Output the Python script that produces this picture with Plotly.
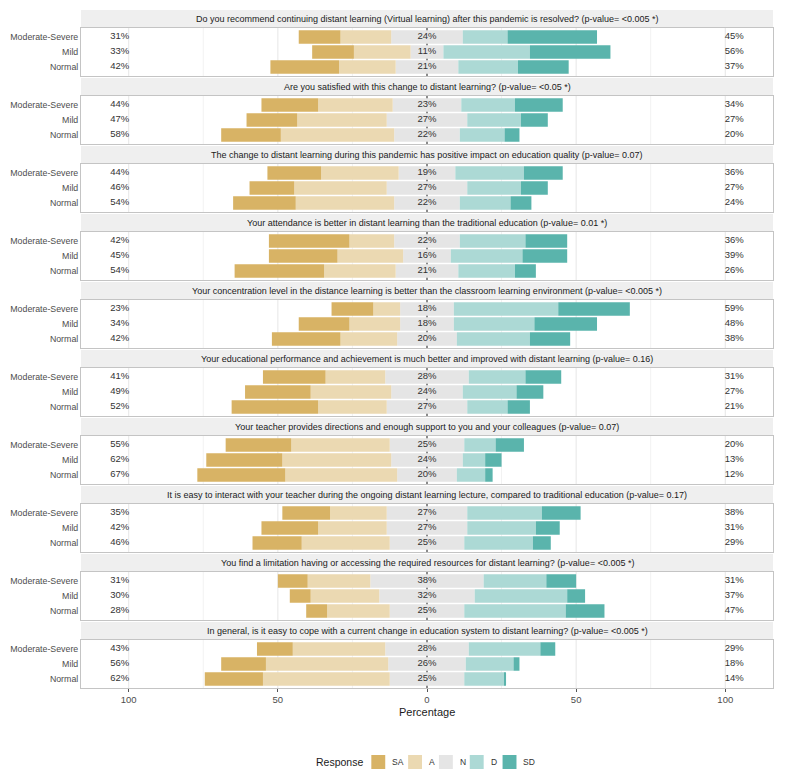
import plotly.graph_objects as go

questions = [
    "Do you recommend continuing distant learning (Virtual learning) after this pandemic is resolved? (p-value= <0.005 *)",
    "Are you satisfied with this change to distant learning? (p-value= <0.05 *)",
    "The change to distant learning during this pandemic has positive impact on education quality (p-value= 0.07)",
    "Your attendance is better in distant learning than the traditional education (p-value= 0.01 *)",
    "Your concentration level in the distance learning is better than the classroom learning environment (p-value= <0.005 *)",
    "Your educational performance and achievement is much better and improved with distant learning (p-value= 0.16)",
    "Your teacher provides directions and enough support to you and your colleagues (p-value= 0.07)",
    "It is easy to interact with your teacher during the ongoing distant learning lecture, compared to traditional education (p-value= 0.17)",
    "You find a limitation having or accessing the required resources for distant learning? (p-value= <0.005 *)",
    "In general, is it easy to cope with a current change in education system to distant learning? (p-value= <0.005 *)",
]
groups = ["Moderate-Severe", "Mild", "Normal"]
responses = ["SA", "A", "N", "D", "SD"]

# values per question, in group order Moderate-Severe, Mild, Normal
SA = [[14, 14, 23], [19, 17, 20], [18, 15, 21], [27, 23, 30], [14, 17, 23],
      [21, 22, 29], [22, 25.5, 29.5], [16, 19, 16.5], [10, 7, 7], [12, 15, 19.5]]
A = [[17, 19, 19], [25, 30, 38], [26, 31, 33], [15, 22, 24], [9, 17, 19],
     [20, 27, 23], [33, 36.5, 37.5], [19, 23, 29.5], [21, 23, 21], [31, 41, 42.5]]
N = [[24, 11, 21], [23, 27, 22], [19, 27, 22], [22, 16, 21], [18, 18, 20],
     [28, 24, 27], [25, 24, 20], [27, 27, 25], [38, 32, 25], [28, 26, 25]]
D = [[15, 29, 20], [18, 18, 15], [23, 18, 17], [22, 24, 19], [35, 27, 24.5],
     [19, 18, 13.5], [10.5, 7.5, 9.5], [25, 23, 23], [21, 31, 34], [24, 16, 13.5]]
SD = [[30, 27, 17], [16, 9, 5], [13, 9, 7], [14, 15, 7], [24, 21, 13.5],
      [12, 9, 7.5], [9.5, 5.5, 2.5], [13, 8, 6], [10, 6, 13], [5, 2, 0.5]]

x_ticks = [-100, -50, 0, 50, 100]
x_ticktext = ["100", "50", "0", "50", "100"]
x_minor = [-75, -25, 25, 75]

colors = {"SA": "#D8B365", "A": "#EBD9B2", "N": "#E5E5E5", "D": "#ACD9D5", "SD": "#5AB4AC"}
FONT = "Liberation Sans, Arial, sans-serif"

# the page adds an 8px body margin, so the figure is laid out 8px up/left
OFF = 8
W, Hfig = 800 - OFF, 775 - OFF
T, L = 10 - OFF, 77 - OFF
R = W - (773 - OFF)
STRIP, PANEL, GAP = 18, 48, 2
nq = len(questions)
PH = nq * (STRIP + PANEL) + (nq - 1) * GAP
B = Hfig - T - PH
PW = W - L - R


def py(pix):
    """page pixel (from top) -> paper y"""
    return 1 - (pix - OFF - T) / PH


def px(pix):
    """page pixel (from left) -> paper x"""
    return (pix - OFF - L) / PW


fig = go.Figure()
shapes = []
annotations = []
layout_axes = {}

for i in range(nq):
    xa = "x" if i == 0 else f"x{i+1}"
    ya = "y" if i == 0 else f"y{i+1}"
    s_top = 10 + i * (STRIP + PANEL + GAP)
    s_bot = s_top + STRIP
    p_top = s_bot
    p_bot = p_top + PANEL

    def bar(name, vals, sign):
        return go.Bar(
            x=[sign * v for v in vals], y=groups, orientation="h",
            marker=dict(color=colors[name], line=dict(width=0)),
            name=name, showlegend=False,
            width=0.9, xaxis=xa, yaxis=ya, hoverinfo="skip",
        )

    halfN = [v / 2 for v in N[i]]
    fig.add_trace(bar("N", halfN, -1))
    fig.add_trace(bar("N", halfN, 1))
    fig.add_trace(bar("A", A[i], -1))
    fig.add_trace(bar("D", D[i], 1))
    fig.add_trace(bar("SA", SA[i], -1))
    fig.add_trace(bar("SD", SD[i], 1))

    left = [f"{round(a + b)}%" for a, b in zip(SA[i], A[i])]
    mid = [f"{round(n)}%" for n in N[i]]
    right = [f"{round(a + b)}%" for a, b in zip(D[i], SD[i])]
    for xpos, txt in ((-103, left), (0, mid), (103, right)):
        fig.add_trace(go.Scatter(
            x=[xpos] * 3, y=groups, mode="text", text=txt,
            textfont=dict(size=9.5, color="#333333", family=FONT),
            showlegend=False, xaxis=xa, yaxis=ya, hoverinfo="skip",
        ))

    last = i == nq - 1
    layout_axes["xaxis" if i == 0 else f"xaxis{i+1}"] = dict(
        domain=[0, 1], anchor=ya, range=[-116, 116],
        tickmode="array", tickvals=x_ticks, ticktext=x_ticktext,
        showticklabels=last, ticks="outside" if last else "",
        ticklen=3, tickcolor="#555555",
        tickfont=dict(size=9.5, color="#4D4D4D", family=FONT),
        showgrid=False, zeroline=False, showline=True, mirror=True,
        linecolor="#C4C4C4", linewidth=1, fixedrange=True,
    )
    layout_axes["yaxis" if i == 0 else f"yaxis{i+1}"] = dict(
        domain=[py(p_bot), py(p_top)], anchor=xa, type="category",
        categoryorder="array", categoryarray=groups[::-1], range=[-0.6, 2.6],
        tickfont=dict(size=8.8, color="#4D4D4D", family=FONT),
        showgrid=False, zeroline=False, showline=True, mirror=True,
        linecolor="#C4C4C4", linewidth=1, ticks="",
        fixedrange=True,
    )

    # strip
    shapes.append(dict(type="rect", xref="paper", yref="paper", x0=0, x1=1,
                       y0=py(s_bot), y1=py(s_top), fillcolor="#EFEFEF",
                       line=dict(width=0), layer="below"))
    annotations.append(dict(text=questions[i], xref="paper", yref="paper",
                            x=0.5, y=py((s_top + s_bot) / 2), showarrow=False,
                            xanchor="center", yanchor="middle",
                            font=dict(size=9, color="#1A1A1A", family=FONT)))
    # grid lines
    for gx in x_minor:
        shapes.append(dict(type="line", xref=xa, yref=f"{ya} domain", x0=gx, x1=gx,
                           y0=0, y1=1, line=dict(color="#F2F2F2", width=1), layer="below"))
    for gx in x_ticks:
        shapes.append(dict(type="line", xref=xa, yref=f"{ya} domain", x0=gx, x1=gx,
                           y0=0, y1=1, line=dict(color="#E6E6E6", width=1), layer="below"))
    # zero reference line
    shapes.append(dict(type="line", xref=xa, yref=f"{ya} domain", x0=0, x1=0,
                       y0=0, y1=1, line=dict(color="#222222", width=1),
                       layer="below"))

annotations.append(dict(text="Percentage", xref="paper", yref="paper", x=0.5,
                        y=py(712), showarrow=False, xanchor="center",
                        yanchor="middle",
                        font=dict(size=11, color="#1A1A1A", family=FONT)))

# legend (drawn from the responses list and colour map)
leg_y = 762
annotations.append(dict(text="Response", xref="paper", yref="paper", x=px(363),
                        y=py(leg_y), showarrow=False, xanchor="right",
                        yanchor="middle",
                        font=dict(size=10.5, color="#1A1A1A", family=FONT)))
sw_left = [369, 406, 437, 468, 501]
for k, r in enumerate(responses):
    x0 = sw_left[k]
    shapes.append(dict(type="rect", xref="paper", yref="paper",
                       x0=px(x0), x1=px(x0 + 14), y0=py(leg_y + 7), y1=py(leg_y - 7),
                       fillcolor=colors[r], line=dict(width=0)))
    annotations.append(dict(text=r, xref="paper", yref="paper", x=px(x0 + 19),
                            y=py(leg_y), showarrow=False, xanchor="left",
                            yanchor="middle",
                            font=dict(size=8.5, color="#333333", family=FONT)))

fig.update_layout(
    width=W, height=Hfig,
    margin=dict(l=L, r=R, t=T, b=B),
    barmode="relative", bargap=0.1,
    plot_bgcolor="white", paper_bgcolor="white",
    font=dict(family=FONT),
    showlegend=False,
    shapes=shapes, annotations=annotations,
    **layout_axes,
)

fig.write_html("out.html")
